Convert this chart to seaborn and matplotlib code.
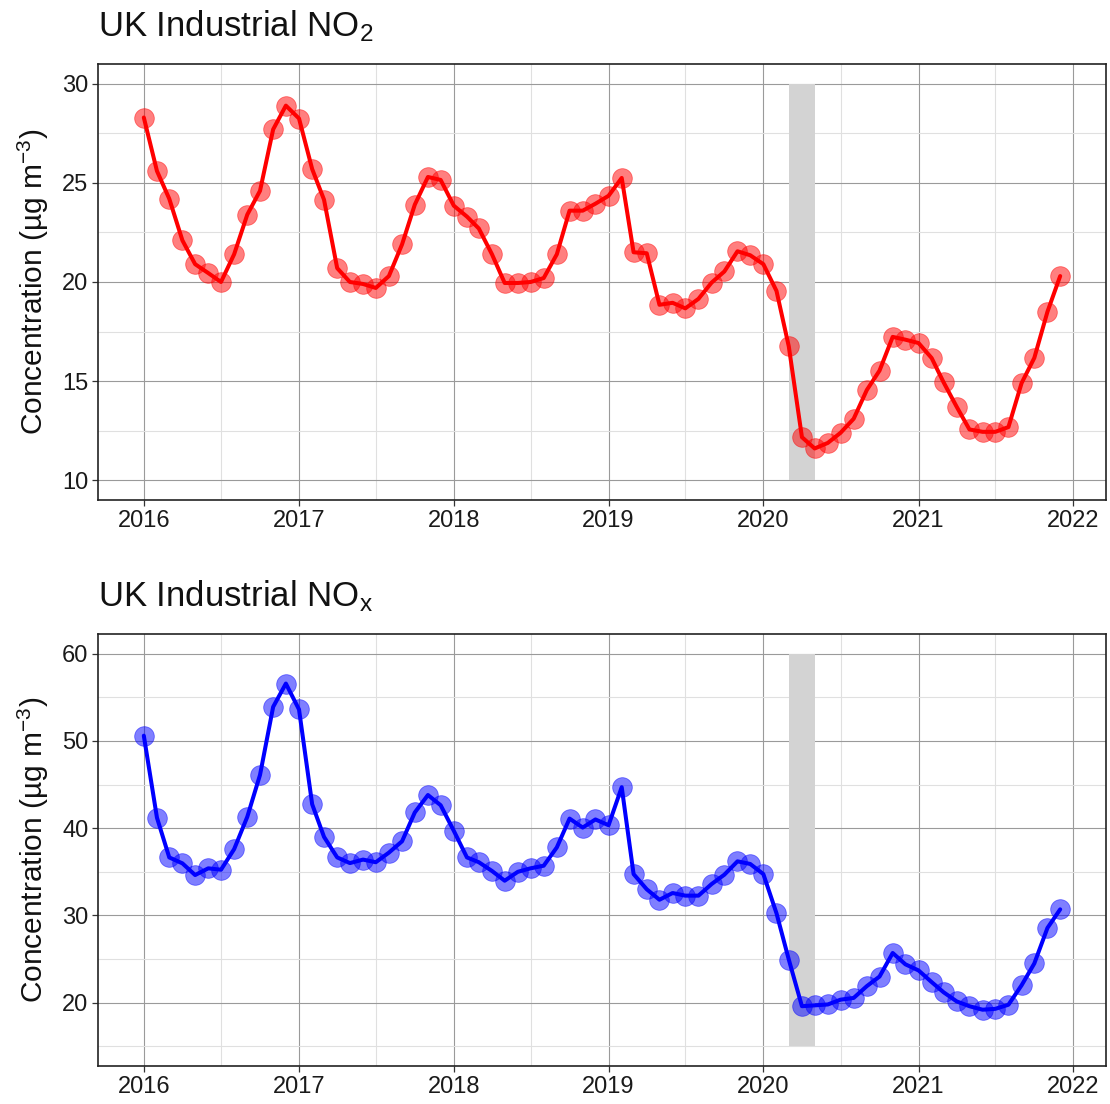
import numpy as np
import pandas as pd
import matplotlib
matplotlib.use("Agg")
import matplotlib.pyplot as plt
import matplotlib.dates as mdates
from matplotlib.ticker import MultipleLocator
import seaborn as sns

# ---- data (monthly means, Jan 2016 - Dec 2021) ----
months = pd.date_range("2016-01-01", periods=72, freq="MS")

no2 = [28.3, 25.6, 24.2, 22.1, 20.9, 20.45, 20.0, 21.4, 23.4, 24.6, 27.7, 28.9,
       28.25, 25.7, 24.15, 20.7, 20.0, 19.9, 19.7, 20.3, 21.9, 23.9, 25.3, 25.15,
       23.85, 23.3, 22.7, 21.4, 19.95, 19.95, 20.0, 20.2, 21.4, 23.6, 23.6, 23.95,
       24.35, 25.25, 21.5, 21.45, 18.85, 18.95, 18.67, 19.15, 19.97, 20.53, 21.55, 21.35,
       20.9, 19.55, 16.75, 12.17, 11.6, 11.88, 12.39, 13.1, 14.55, 15.53, 17.23, 17.09,
       16.92, 16.16, 14.94, 13.7, 12.56, 12.44, 12.44, 12.68, 14.9, 16.17, 18.5, 20.3]

nox = [50.6, 41.2, 36.65, 35.97, 34.63, 35.4, 35.24, 37.6, 41.3, 46.1, 53.9, 56.57,
       53.6, 42.74, 39.0, 36.65, 36.0, 36.4, 36.1, 37.2, 38.5, 41.8, 43.8, 42.63,
       39.7, 36.65, 36.1, 35.1, 33.98, 35.0, 35.4, 35.7, 37.8, 41.1, 40.07, 41.0,
       40.34, 44.7, 34.74, 33.0, 31.8, 32.57, 32.27, 32.27, 33.6, 34.67, 36.2, 35.9,
       34.74, 30.25, 24.95, 19.6, 19.7, 19.8, 20.35, 20.55, 21.9, 23.0, 25.7, 24.4,
       23.7, 22.36, 21.2, 20.15, 19.6, 19.2, 19.3, 19.77, 22.0, 24.5, 28.57, 30.7]

titles = ["UK Industrial NO$_2$", "UK Industrial NO$_\\mathregular{x}$"]
colors = ["#ff0000", "#0000ff"]
lockdown_start = pd.Timestamp("2020-03-01")
lockdown_end = pd.Timestamp("2020-05-01")
rect_y = [(10, 30), (15, 60)]
y_major = [5, 10]
y_minor = [2.5, 5]

df = pd.DataFrame({"date": months, "NO2": no2, "NOx": nox})

sns.set_style("ticks")
plt.rcParams["font.family"] = ["Liberation Sans", "DejaVu Sans"]
plt.rcParams["mathtext.fontset"] = "custom"
plt.rcParams["mathtext.rm"] = "Liberation Sans"
plt.rcParams["mathtext.it"] = "Liberation Sans"

fig = plt.figure(figsize=(11.10, 11.04), dpi=100)
W, H = 1110, 1104
boxes = [(98, 64, 1106, 500), (98, 634, 1106, 1066)]

span = months[-1] - months[0]
pad = span * 0.05
xlim = (months[0] - pad, months[-1] + pad)

for i, (col, title) in enumerate(zip(["NO2", "NOx"], titles)):
    l, t, r, b = boxes[i]
    ax = fig.add_axes([l / W, 1 - b / H, (r - l) / W, (b - t) / H])
    y0, y1 = rect_y[i]
    ext = (y1 - y0) * 0.05
    ax.set_ylim(y0 - ext, y1 + ext)
    ax.set_xlim(xlim)

    ax.xaxis.set_major_locator(mdates.YearLocator())
    ax.xaxis.set_minor_locator(mdates.MonthLocator(bymonth=7))
    ax.xaxis.set_major_formatter(mdates.DateFormatter("%Y"))
    ax.yaxis.set_major_locator(MultipleLocator(y_major[i]))
    ax.yaxis.set_minor_locator(MultipleLocator(y_minor[i]))

    ax.grid(which="major", color="#9a9a9a", lw=0.8, zorder=0)
    ax.grid(which="minor", color="#e0e0e0", lw=0.8, zorder=0)
    ax.set_axisbelow(True)

    ax.fill_between([lockdown_start, lockdown_end], y0, y1, color="#d3d3d3",
                    lw=0, zorder=1)

    sns.lineplot(data=df, x="date", y=col, color=colors[i], lw=2.9, ax=ax,
                 zorder=3)
    sns.scatterplot(data=df, x="date", y=col, color=colors[i], s=200, alpha=0.5,
                    edgecolor=colors[i], linewidth=0.6, ax=ax, zorder=4)

    for sp in ax.spines.values():
        sp.set_color("#222222")
        sp.set_linewidth(1.2)
    ax.tick_params(which="major", length=4, width=0.9, color="#333333",
                   labelsize=17, labelcolor="#1a1a1a", pad=3)
    ax.tick_params(which="minor", length=0)

    ax.set_xlabel("")
    ax.set_ylabel("Concentration (µg m$^{-3}$)", fontsize=21.5, color="#111111",
                  labelpad=8)
    ax.set_title(title, loc="left", fontsize=25, pad=20, color="#111111")

fig.savefig("out.png", dpi=100)
